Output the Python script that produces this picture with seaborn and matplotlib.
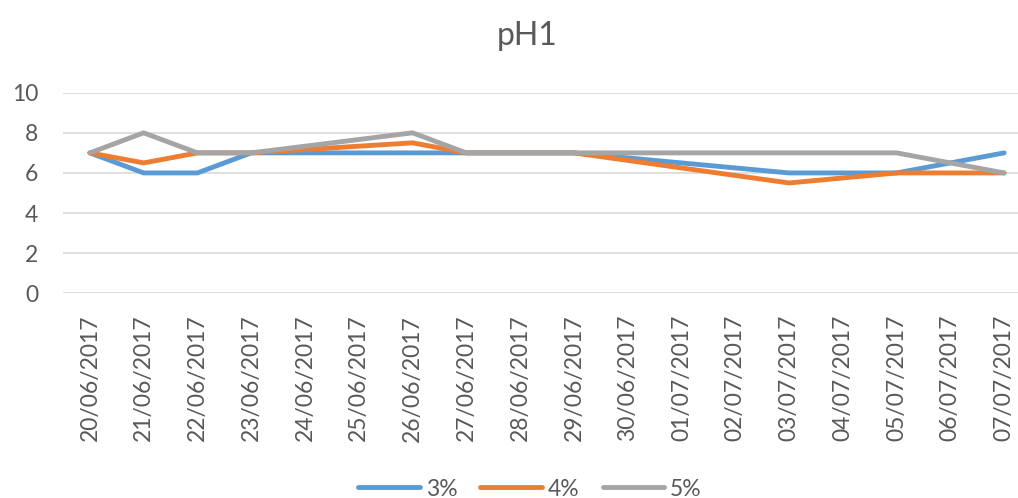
import numpy as np
import pandas as pd
import matplotlib
matplotlib.use("Agg")
import matplotlib.pyplot as plt
import seaborn as sns

dates = ["20/06/2017", "21/06/2017", "22/06/2017", "23/06/2017", "24/06/2017",
         "25/06/2017", "26/06/2017", "27/06/2017", "28/06/2017", "29/06/2017",
         "30/06/2017", "01/07/2017", "02/07/2017", "03/07/2017", "04/07/2017",
         "05/07/2017", "06/07/2017", "07/07/2017"]
nan = np.nan
ph_3 = [7, 6, 6, 7, nan, nan, 7, 7, 7, 7, nan, nan, nan, 6, 6, 6, 6.5, 7]
ph_4 = [7, 6.5, 7, 7, nan, nan, 7.5, 7, 7, 7, nan, nan, nan, 5.5, 5.75, 6, 6, 6]
ph_5 = [7, 8, 7, 7, nan, nan, 8, 7, 7, 7, nan, nan, nan, 7, 7, 7, 6.5, 6]
series_names = ["3%", "4%", "5%"]
colors = ["#5B9BD5", "#ED7D31", "#A5A5A5"]

rows = []
for name, vals in zip(series_names, [ph_3, ph_4, ph_5]):
    for i, v in enumerate(vals):
        rows.append({"idx": i, "value": v, "series": name})
df = pd.DataFrame(rows).dropna()

sns.set_style("white")
plt.rcParams["font.family"] = ["Lato", "DejaVu Sans"]
text_color = "#595959"

W, H = 1018, 498
fig = plt.figure(figsize=(W / 100, H / 100), dpi=100)
ax = fig.add_axes([63 / W, (H - 293.3) / H, (1031 - 63) / W, 200.6 / H])

sns.lineplot(data=df, x="idx", y="value", hue="series", hue_order=series_names,
             palette=colors, linewidth=3.5, errorbar=None, ax=ax, legend=True)

ax.set_xlim(-0.5, len(dates) - 0.5)
ax.set_ylim(0, 10)
ax.set_yticks(np.arange(0, 11, 2))
ax.set_xticks(range(len(dates)))
ax.set_xticklabels(dates, rotation=90, ha="center", va="top")
ax.set_xlabel("")
ax.set_ylabel("")
for s in ax.spines.values():
    s.set_visible(False)
ax.yaxis.grid(True, color="#D9D9D9", linewidth=1.2)
ax.set_axisbelow(True)
ax.tick_params(axis="y", length=0, pad=18, labelsize=16.5, labelcolor=text_color)
ax.tick_params(axis="x", length=0, pad=15.5, labelsize=16.5, labelcolor=text_color)

handles, labels = ax.get_legend_handles_labels()
ax.get_legend().remove()
fig.legend(handles, labels, loc="center", bbox_to_anchor=(530 / W, (H - 489) / H),
           ncol=3, frameon=False, fontsize=16.5, labelcolor=text_color,
           handlelength=2.7, handletextpad=0.25, columnspacing=1.0)

fig.text(527 / W, 1 - 45 / H, "pH1", ha="center", va="baseline",
         fontsize=23, color=text_color)

fig.savefig("out.png", dpi=100)
